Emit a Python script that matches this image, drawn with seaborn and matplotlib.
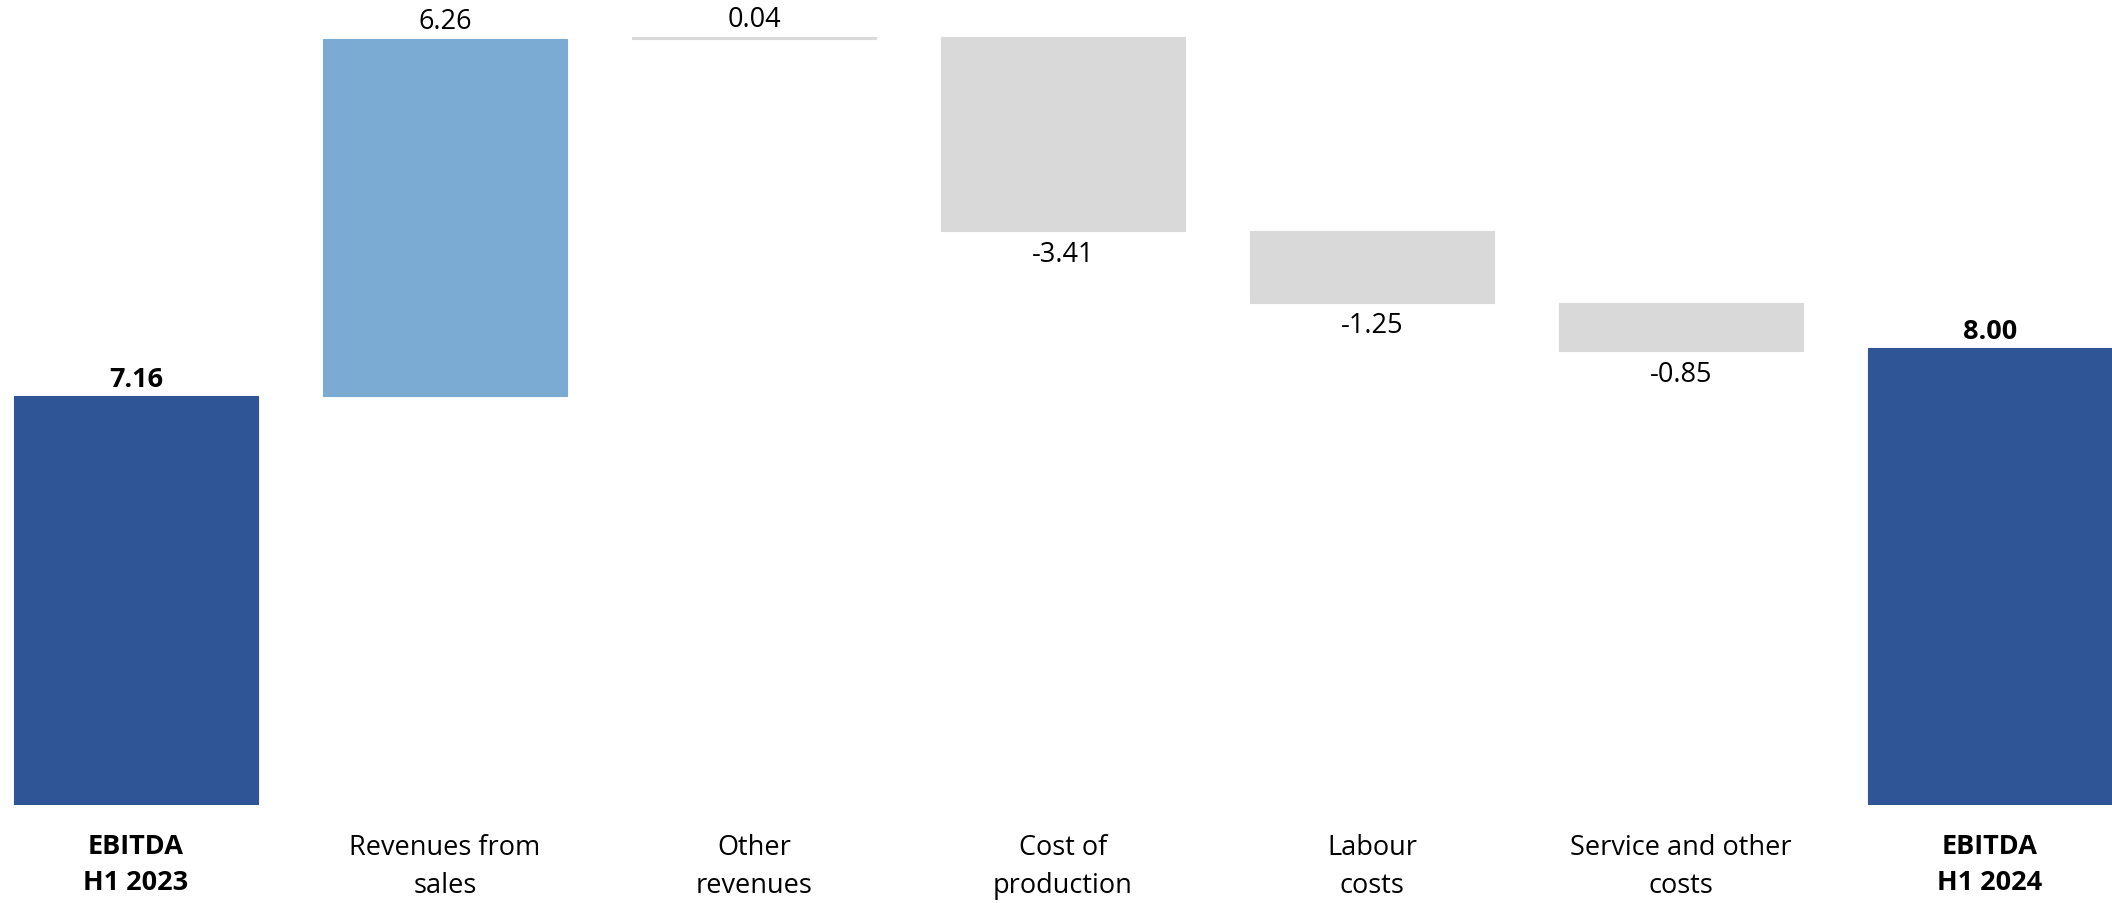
import numpy as np
import pandas as pd
import seaborn as sns
import matplotlib.pyplot as plt

# EBITDA bridge H1 2023 -> H1 2024
labels = ["EBITDA\nH1 2023", "Revenues from\nsales", "Other\nrevenues",
          "Cost of\nproduction", "Labour\ncosts", "Service and other\ncosts",
          "EBITDA\nH1 2024"]
deltas = [7.16, 6.26, 0.04, -3.41, -1.25, -0.85, 8.00]
is_total = [True, False, False, False, False, False, True]

dark_blue = "#2F5597"
light_blue = "#7BAAD3"
grey = "#D9D9D9"

# running bottoms for the floating bars
bottoms = []
run = 0.0
for d, tot in zip(deltas, is_total):
    if tot:
        bottoms.append(0.0)
        run = d
    else:
        bottoms.append(run if d >= 0 else run + d)
        run = run + d

colors = []
for d, tot in zip(deltas, is_total):
    if tot:
        colors.append(dark_blue)
    elif d >= 0 and d > 1:
        colors.append(light_blue)
    else:
        colors.append(grey)

df = pd.DataFrame({"step": labels, "height": np.abs(deltas), "bottom": bottoms})

sns.set_theme(style="white")
plt.rcParams['font.family'] = ['Open Sans', 'DejaVu Sans']

fig = plt.figure(figsize=(21.12, 9.04), dpi=100)
ax = fig.add_axes([0, 0.1084, 1, 0.8916])

sns.barplot(data=df, x="step", y="height", hue="step", palette=colors,
            legend=False, width=0.79, saturation=1, ax=ax)

# move bars up so they float
for p, b in zip(ax.patches, bottoms):
    p.set_y(b)
    p.set_edgecolor(p.get_facecolor())
    p.set_linewidth(0.8)

for i, (d, b, tot) in enumerate(zip(deltas, bottoms, is_total)):
    h = abs(d)
    if d >= 0:
        ax.annotate(f"{d:.2f}", (i, b + h), xytext=(0, 3), textcoords="offset points",
                    ha="center", va="bottom", fontsize=19.5,
                    fontweight="bold" if tot else "normal", color="black")
    else:
        ax.annotate(f"{d:.2f}", (i, b), xytext=(0, -6), textcoords="offset points",
                    ha="center", va="top", fontsize=19.5, color="black")

ax.set_xlim(-0.44, 6.395)
ax.set_ylim(0, 14.12)
ax.set_xlabel("")
ax.set_ylabel("")
ax.set_yticks([])
ax.tick_params(axis="x", length=0, pad=20, labelsize=19.5)
ax.set_xticks(range(len(labels)))
ax.set_xticklabels(labels, linespacing=1.5)
for t, tot in zip(ax.get_xticklabels(), is_total):
    t.set_color("black")
    if tot:
        t.set_fontweight("bold")
sns.despine(ax=ax, left=True, bottom=True)

fig.savefig("out.png", dpi=100)
